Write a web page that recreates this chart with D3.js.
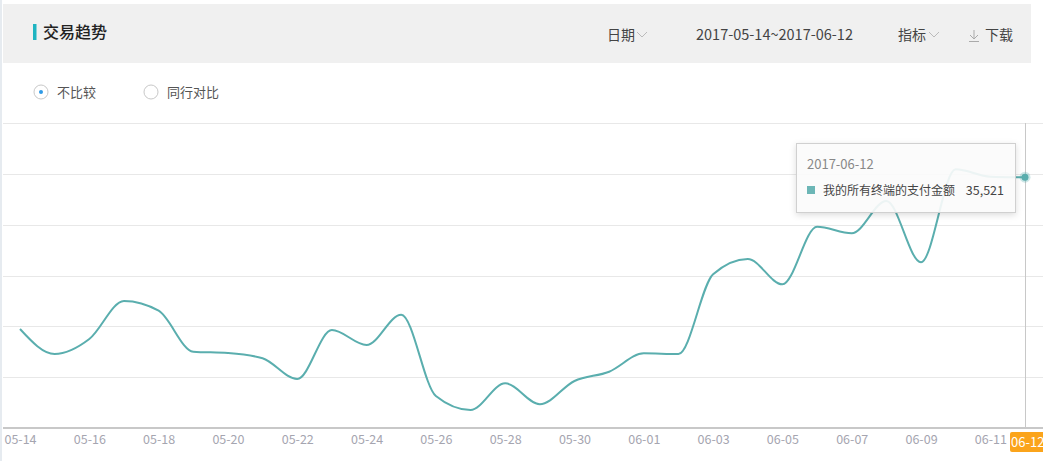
<!DOCTYPE html>
<html><head><meta charset="utf-8">
<script src="https://cdn.jsdelivr.net/npm/d3@7/dist/d3.min.js"></script>
<style>
html,body{margin:0;padding:0;background:#fff;}
svg{display:block;font-family:"Noto Sans CJK SC","Noto Sans",sans-serif;}
</style></head>
<body>
<svg id="c" width="1043" height="461"></svg>
<script>
const dates = ["05-14","05-15","05-16","05-17","05-18","05-19","05-20","05-21","05-22","05-23","05-24","05-25","05-26","05-27","05-28","05-29","05-30","05-31","06-01","06-02","06-03","06-04","06-05","06-06","06-07","06-08","06-09","06-10","06-11","06-12"];
const values = [14020,10480,12600,17990,16610,10810,10620,9870,6940,13880,11760,16050,4530,2550,6330,3360,6660,7970,10580,10480,21770,23940,20350,28510,27580,32150,23470,36640,35600,35521];
const gridTicks = [0,7200,14400,21600,28800,36000,43200];
const tickLabels = ["05-14","05-16","05-18","05-20","05-22","05-24","05-26","05-28","05-30","06-01","06-03","06-05","06-07","06-09","06-11"];
const seriesName = "我的所有终端的支付金额";
const activeDate = "06-12";
const activeFull = "2017-06-12";

const svg = d3.select("#c");
const teal = "#5aaeae";

// frame
svg.append("rect").attr("x",0).attr("y",0).attr("width",2).attr("height",461).attr("fill","#e6ebf0");
// header
svg.append("rect").attr("x",3).attr("y",4).attr("width",1028).attr("height",59).attr("fill","#f0f0f0");
svg.append("rect").attr("x",33).attr("y",24).attr("width",3.5).attr("height",16).attr("fill","#1fb4c1");
svg.append("text").attr("x",43).attr("y",38).attr("font-size",16).attr("font-weight",500).attr("fill","#222").text("交易趋势");
const hdr = svg.append("g").attr("font-size",14).attr("fill","#444");
hdr.append("text").attr("x",607).attr("y",40).text("日期");
hdr.append("text").attr("x",696).attr("y",40).attr("font-size",14.5).text("2017-05-14~2017-06-12");
hdr.append("text").attr("x",898).attr("y",40).text("指标");
hdr.append("text").attr("x",985).attr("y",40).text("下载");
function chevron(x){svg.append("path").attr("d",`M${x},32 l5,5 l5,-5`).attr("fill","none").attr("stroke","#bbb").attr("stroke-width",1);}
chevron(637); chevron(929);
svg.append("path").attr("d","M974,30 v9 M970,35 l4,4 l4,-4 M969,41.5 h10").attr("fill","none").attr("stroke","#aaa").attr("stroke-width",1);

// radio row
svg.append("circle").attr("cx",41).attr("cy",92).attr("r",7).attr("fill","#fff").attr("stroke","#c8c8c8");
svg.append("circle").attr("cx",41).attr("cy",92).attr("r",2).attr("fill","#2f9ae6");
svg.append("text").attr("x",57).attr("y",97).attr("font-size",13).attr("fill","#555").text("不比较");
svg.append("circle").attr("cx",151).attr("cy",92).attr("r",7).attr("fill","#fff").attr("stroke","#c8c8c8");
svg.append("text").attr("x",167).attr("y",97).attr("font-size",13).attr("fill","#555").text("同行对比");

// scales
const x = d3.scalePoint().domain(dates).range([20,1025]);
const y = d3.scaleLinear().domain([0,43200]).range([428,123]);

// grid
svg.append("g").selectAll("line").data(gridTicks.slice(1)).join("line")
  .attr("x1",3).attr("x2",1043).attr("y1",d=>Math.round(y(d))+0.5).attr("y2",d=>Math.round(y(d))+0.5)
  .attr("stroke","#e8e8e8");

// axis pointer
svg.append("line").attr("x1",x(activeDate)+0.5).attr("x2",x(activeDate)+0.5).attr("y1",123).attr("y2",428).attr("stroke","#c8c8c8");

// x axis
const ax = svg.append("g").attr("transform","translate(0,428)")
  .call(d3.axisBottom(x).tickValues(tickLabels).tickSize(0).tickPadding(7));
ax.select(".domain").attr("stroke","#c8c8c8").attr("stroke-width",2).attr("d","M3,0H1043");
ax.selectAll("text").attr("font-size",12.5).attr("fill","#a5a5b0").attr("font-family","'Noto Sans CJK SC',sans-serif");

// line
const line = d3.line().x((d,i)=>x(dates[i])).y(d=>y(d)).curve(d3.curveMonotoneX);
svg.append("path").datum(values).attr("d",line).attr("fill","none").attr("stroke",teal).attr("stroke-width",2);

// active point
const ai = dates.indexOf(activeDate);
svg.append("circle").attr("cx",x(activeDate)).attr("cy",y(values[ai])).attr("r",5.5).attr("fill",teal).attr("opacity",0.3);
svg.append("circle").attr("cx",x(activeDate)).attr("cy",y(values[ai])).attr("r",3.5).attr("fill",teal);

// highlighted x label
const hx = x(activeDate);
svg.append("rect").attr("x",hx-15).attr("y",432).attr("width",40).attr("height",20).attr("rx",2).attr("fill","#fba41b");
svg.append("text").attr("x",hx-14).attr("y",447).attr("font-size",13).attr("fill","#fff").text(activeDate);

// tooltip
const defs = svg.append("defs");
const f = defs.append("filter").attr("id","sh").attr("x","-20%").attr("y","-20%").attr("width","140%").attr("height","150%");
f.append("feDropShadow").attr("dx",0).attr("dy",2).attr("stdDeviation",3).attr("flood-color","#000").attr("flood-opacity",0.15);
const tt = svg.append("g").attr("transform","translate(796,143)");
tt.append("rect").attr("x",0.5).attr("y",0.5).attr("width",219).attr("height",69).attr("fill","rgba(252,252,252,0.9)").attr("stroke","#d0d0d0").attr("filter","url(#sh)");
tt.append("text").attr("x",11).attr("y",26).attr("font-size",13).attr("fill","#888").text(activeFull);
tt.append("rect").attr("x",11).attr("y",43).attr("width",8).attr("height",8).attr("fill","#6cb6b6");
tt.append("text").attr("x",27).attr("y",51.5).attr("font-size",12).attr("fill","#444").text(seriesName);
tt.append("text").attr("x",208).attr("y",51.5).attr("text-anchor","end").attr("font-size",12.5).attr("fill","#444").text(d3.format(",")(values[ai]));
</script>
</body></html>
